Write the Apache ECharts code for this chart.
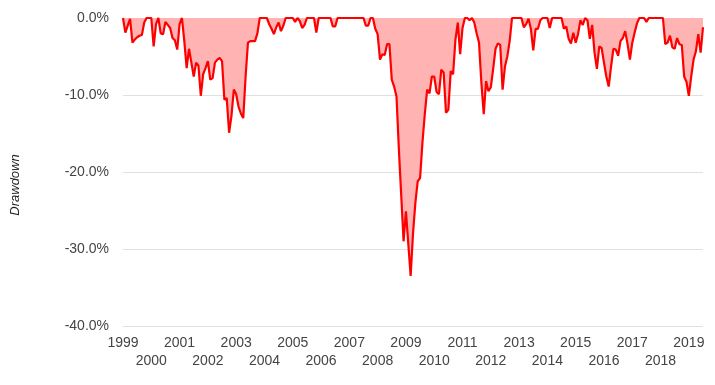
<!DOCTYPE html>
<html>
<head>
<meta charset="utf-8">
<script src="https://cdn.jsdelivr.net/npm/echarts@6/dist/echarts.min.js"></script>
<style>
html,body{margin:0;padding:0;background:#fff;}
#chart{width:715px;height:385px;}
</style>
</head>
<body>
<div id="chart"></div>
<script>
// Monthly drawdown (%) from Jan 1999, one row per year
const startYear = 1999;
const drawdownPct = [
  0, -1.9, -1.0, -0.1, -3.2, -2.8, -2.5, -2.3, -2.2, -0.6, 0, 0,            // 1999
  0, -3.7, -0.8, 0, -2.0, -2.1, -0.5, -0.9, -1.3, -2.6, -2.9, -4.1,         // 2000
  -0.8, 0, -3.0, -6.5, -4.0, -5.8, -7.6, -5.8, -6.2, -10.1, -7.3, -6.5,     // 2001
  -5.6, -8.0, -7.8, -5.8, -5.4, -5.2, -5.6, -10.6, -10.4, -14.9, -12.7, -9.3, // 2002
  -9.9, -11.5, -12.4, -13.0, -7.6, -3.2, -3.0, -3.0, -3.0, -2.0, 0, 0,      // 2003
  0, 0, -0.8, -1.4, -2.1, -1.2, -0.6, -1.7, -1.0, 0, 0, 0,                  // 2004
  0, -0.5, 0, -0.4, -1.3, -0.9, 0, 0, 0, 0, -1.9, 0,                        // 2005
  0, 0, 0, 0, 0, -1.1, -1.1, 0, 0, 0, 0, 0,                                 // 2006
  0, 0, 0, 0, 0, 0, 0, -1.0, -1.0, 0, 0, -1.4,                              // 2007
  -2.1, -5.4, -4.7, -4.8, -3.4, -3.4, -8.0, -8.9, -10.2, -17.0, -23.0, -29.0, // 2008
  -25.1, -29.3, -33.5, -28.0, -24.0, -21.2, -20.8, -16.2, -12.5, -9.3, -9.8, -7.6, // 2009
  -7.6, -9.6, -9.9, -6.7, -7.1, -12.3, -11.9, -6.9, -7.3, -2.8, -0.6, -4.7, // 2010
  -1.3, 0, 0, -0.3, 0, -0.6, -2.0, -3.2, -8.4, -12.5, -8.2, -9.5,           // 2011
  -9.0, -6.6, -4.0, -3.3, -3.5, -9.3, -6.3, -5.0, -3.0, 0, 0, 0,            // 2012
  0, 0, -1.2, -0.8, -0.1, -1.4, -4.2, -1.4, -1.4, -0.3, 0, 0,               // 2013
  0, -1.3, 0, 0, 0, 0, 0, -1.4, -1.1, -2.7, -3.3, -1.9,                     // 2014
  -3.2, -2.1, -0.3, -0.9, 0, -0.3, -2.7, -0.9, -4.5, -6.6, -3.7, -3.9,      // 2015
  -5.8, -7.6, -8.9, -6.3, -4.0, -4.1, -4.9, -3.0, -2.6, -1.7, -3.4, -5.4,   // 2016
  -3.2, -1.9, -0.7, 0, 0, 0, -0.5, 0, 0, 0, 0, 0,                           // 2017
  0, 0, -3.4, -3.2, -2.3, -3.8, -4.0, -2.6, -3.4, -3.5, -7.6, -8.3,         // 2018
  -10.1, -7.6, -5.4, -4.3, -2.1, -4.5, -1.2                                 // 2019
];
const yTicks = [-40, -30, -20, -10, 0];
const yAxisTitle = 'Drawdown';

const months = drawdownPct.map((_, i) => {
  const y = startYear + Math.floor(i / 12);
  const m = (i % 12) + 1;
  return y + '-' + (m < 10 ? '0' + m : m);
});

const font = 'Arial, "Liberation Sans", sans-serif';
function yearAxis(parity, offset) {
  return {
    type: 'category',
    data: months,
    boundaryGap: false,
    position: 'bottom',
    offset: offset,
    axisLine: {show: false},
    axisTick: {show: false},
    splitLine: {show: false},
    axisLabel: {
      interval: (idx) => idx % 12 === 0 && ((startYear + idx / 12) % 2 === parity),
      formatter: (val) => val.slice(0, 4),
      color: '#444',
      fontFamily: font,
      fontSize: 14,
      margin: 10,
      hideOverlap: false
    }
  };
}

const chart = echarts.init(document.getElementById('chart'), null, {renderer: 'canvas'});
chart.setOption({
  animation: false,
  backgroundColor: '#fff',
  grid: {left: 123, right: 12, top: 18, bottom: 59, containLabel: false},
  xAxis: [yearAxis(1, 0), yearAxis(0, 18)],
  yAxis: {
    type: 'value',
    min: yTicks[0],
    max: yTicks[yTicks.length - 1],
    interval: 10,
    axisLine: {show: false},
    axisTick: {show: false},
    splitLine: {lineStyle: {color: ['#e0e0e0', '#e0e0e0', '#e0e0e0', '#e0e0e0', '#9e9e9e'], width: 1}},
    axisLabel: {
      formatter: (v) => v.toFixed(1) + '%',
      color: '#444',
      fontFamily: font,
      fontSize: 14,
      margin: 14
    }
  },
  graphic: [{
    type: 'text',
    x: 15,
    y: 185,
    rotation: Math.PI / 2,
    style: {
      text: yAxisTitle,
      fill: '#222',
      font: 'italic 13px ' + font,
      textAlign: 'center',
      textVerticalAlign: 'middle'
    }
  }],
  series: [{
    type: 'line',
    xAxisIndex: 0,
    data: drawdownPct,
    showSymbol: false,
    symbol: 'none',
    lineStyle: {color: '#ff0000', width: 2.2},
    areaStyle: {color: '#ffb3b3', opacity: 1, origin: 'end'},
    itemStyle: {color: '#ff0000'}
  }]
});
</script>
</body>
</html>
